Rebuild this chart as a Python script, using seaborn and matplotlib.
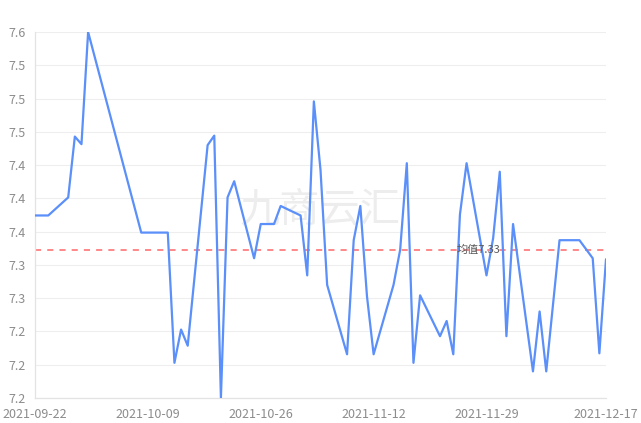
import matplotlib
matplotlib.use("Agg")
import matplotlib.pyplot as plt
import matplotlib.dates as mdates
import pandas as pd
import seaborn as sns

dates = ["2021-09-22", "2021-09-24", "2021-09-27", "2021-09-28", "2021-09-29", "2021-09-30",
         "2021-10-08", "2021-10-12", "2021-10-13", "2021-10-14", "2021-10-15", "2021-10-18",
         "2021-10-19", "2021-10-20", "2021-10-21", "2021-10-22", "2021-10-25", "2021-10-26",
         "2021-10-27", "2021-10-28", "2021-10-29", "2021-11-01", "2021-11-02", "2021-11-03",
         "2021-11-04", "2021-11-05", "2021-11-08", "2021-11-09", "2021-11-10", "2021-11-11",
         "2021-11-12", "2021-11-15", "2021-11-16", "2021-11-17", "2021-11-18", "2021-11-19",
         "2021-11-22", "2021-11-23", "2021-11-24", "2021-11-25", "2021-11-26", "2021-11-29",
         "2021-11-30", "2021-12-01", "2021-12-02", "2021-12-03", "2021-12-06", "2021-12-07",
         "2021-12-08", "2021-12-10", "2021-12-13", "2021-12-15", "2021-12-16", "2021-12-17"]
values = [7.372, 7.372, 7.391, 7.455, 7.447, 7.565,
          7.354, 7.354, 7.217, 7.252, 7.235, 7.446,
          7.456, 7.180, 7.391, 7.408, 7.327, 7.363,
          7.363, 7.363, 7.382, 7.372, 7.309, 7.492,
          7.420, 7.299, 7.226, 7.346, 7.382, 7.287,
          7.226, 7.299, 7.336, 7.427, 7.217, 7.288,
          7.245, 7.261, 7.226, 7.373, 7.427, 7.309,
          7.348, 7.418, 7.245, 7.363, 7.208, 7.271,
          7.208, 7.346, 7.346, 7.327, 7.227, 7.326]

mean_value = 7.336
mean_label = "均值7.33"
watermark = "九商云汇"

y_ticks = [7.18, 7.215, 7.25, 7.285, 7.32, 7.355, 7.39, 7.425, 7.46, 7.495, 7.53, 7.565]
y_tick_labels = ["7.2", "7.2", "7.2", "7.3", "7.3", "7.4", "7.4", "7.4", "7.5", "7.5", "7.5", "7.6"]
x_tick_labels = ["2021-09-22", "2021-10-09", "2021-10-26", "2021-11-12", "2021-11-29", "2021-12-17"]

df = pd.DataFrame({"date": pd.to_datetime(dates), "value": values})

sns.set_theme(style="white")
plt.rcParams["font.family"] = ["Noto Sans CJK SC", "DejaVu Sans"]

W, H = 641, 423
fig = plt.figure(figsize=(W / 100, H / 100), dpi=100)
ax = fig.add_axes([35 / W, (H - 398) / H, (606 - 35) / W, (398 - 32) / H])

# watermark
ax.text(0.5, 0.515, watermark, transform=ax.transAxes, ha="center", va="center",
        fontsize=29, color="#000000", alpha=0.07, zorder=0)

sns.lineplot(data=df, x="date", y="value", ax=ax, color="#5B8FF9", linewidth=1.6, zorder=3)

ax.axhline(mean_value, color="#FF4D4F", linestyle=(0, (4, 4)), linewidth=1.1, alpha=0.85, zorder=2)
ax.text(pd.Timestamp("2021-11-25") - pd.Timedelta(hours=12), mean_value, mean_label,
        ha="left", va="center", fontsize=8, color="#595959", zorder=4)

ax.set_xlim(pd.Timestamp(x_tick_labels[0]), pd.Timestamp(x_tick_labels[-1]))
ax.set_ylim(y_ticks[0], y_ticks[-1])
ax.set_yticks(y_ticks)
ax.set_yticklabels(y_tick_labels)
ax.set_xticks(pd.to_datetime(x_tick_labels))
ax.set_xticklabels(x_tick_labels)

ax.grid(axis="y", color="#EEEEEE", linewidth=0.8)
ax.set_axisbelow(True)
for s in ["top", "right"]:
    ax.spines[s].set_visible(False)
for s in ["left", "bottom"]:
    ax.spines[s].set_color("#E3E3E3")
    ax.spines[s].set_linewidth(0.9)
ax.tick_params(axis="both", colors="#E3E3E3", labelcolor="#8C8C8C", labelsize=9,
               length=4, width=0.9, direction="out", pad=3)
ax.set_xlabel("")
ax.set_ylabel("")

fig.savefig("out.png", dpi=100)
